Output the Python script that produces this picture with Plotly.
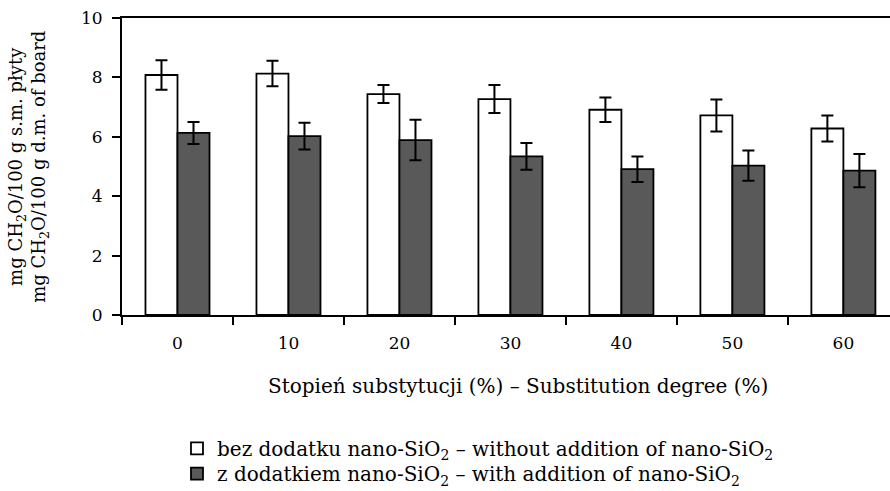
import plotly.graph_objects as go

# Substitution degree categories (%)
degrees = ["0", "10", "20", "30", "40", "50", "60"]

# Formaldehyde content, mg CH2O / 100 g dry board
without_nano = [8.08, 8.13, 7.44, 7.27, 6.91, 6.72, 6.28]
without_err = [0.50, 0.43, 0.30, 0.47, 0.41, 0.54, 0.44]
with_nano = [6.13, 6.02, 5.89, 5.34, 4.91, 5.03, 4.86]
with_err = [0.37, 0.45, 0.68, 0.45, 0.43, 0.51, 0.56]

name_without = "bez dodatku nano-SiO<sub>2</sub> – without addition of nano-SiO<sub>2</sub>"
name_with = "z dodatkiem nano-SiO<sub>2</sub> – with addition of nano-SiO<sub>2</sub>"
x_title = "Stopień substytucji (%) – Substitution degree (%)"
y_title = "mg CH<sub>2</sub>O/100 g s.m. płyty<br>mg CH<sub>2</sub>O/100 g d.m. of board"

FONT = "DejaVu Serif"

err_style = dict(type="data", visible=True, color="black", thickness=2, width=6)

fig = go.Figure()
fig.add_trace(go.Bar(
    x=degrees, y=without_nano, name=name_without, legend="legend",
    marker=dict(color="white", line=dict(color="black", width=1.8)),
    error_y=dict(array=without_err, **err_style),
))
fig.add_trace(go.Bar(
    x=degrees, y=with_nano, name=name_with, legend="legend2",
    marker=dict(color="#595959", line=dict(color="black", width=1.8)),
    error_y=dict(array=with_err, **err_style),
))

# one legend box per series so the two rows can be spaced freely
legend_style = dict(
    x=0.0716, xanchor="left", yanchor="middle", orientation="v",
    font=dict(family=FONT, size=20), bgcolor="rgba(0,0,0,0)", itemclick=False,
)

fig.update_layout(
    width=890, height=491,
    margin=dict(l=122, r=0, t=18, b=176, autoexpand=False),
    plot_bgcolor="white", paper_bgcolor="white",
    font=dict(family=FONT, size=17, color="black"),
    barmode="group", bargap=0.423, bargroupgap=0,
    showlegend=True,
    legend=dict(y=-0.449, **legend_style),
    legend2=dict(y=-0.534, **legend_style),
)

fig.update_xaxes(
    type="category", range=[-0.5, 6.42],
    tickson="boundaries", ticks="outside", ticklen=8, tickwidth=1.5, tickcolor="black",
    showline=True, linecolor="black", linewidth=1.8, mirror=True,
    showgrid=False, zeroline=False, ticklabelstandoff=12,
    tickfont=dict(family=FONT, size=17),
)
fig.update_yaxes(
    range=[0, 10], dtick=2, ticks="outside", ticklen=8, tickwidth=1.5, tickcolor="black",
    showline=True, linecolor="black", linewidth=1.8,
    showgrid=False, zeroline=False, ticklabelstandoff=6,
    tickfont=dict(family=FONT, size=17),
)

# axis titles
fig.add_annotation(
    text=x_title, xref="paper", yref="paper", x=0.516, y=-0.240,
    xanchor="center", yanchor="middle", showarrow=False,
    font=dict(family=FONT, size=20),
)
fig.add_annotation(
    text=y_title, xref="paper", yref="paper", x=-0.122, y=0.5,
    xanchor="center", yanchor="middle", textangle=-90, showarrow=False,
    font=dict(family=FONT, size=18),
)

fig.write_html("out.html")
